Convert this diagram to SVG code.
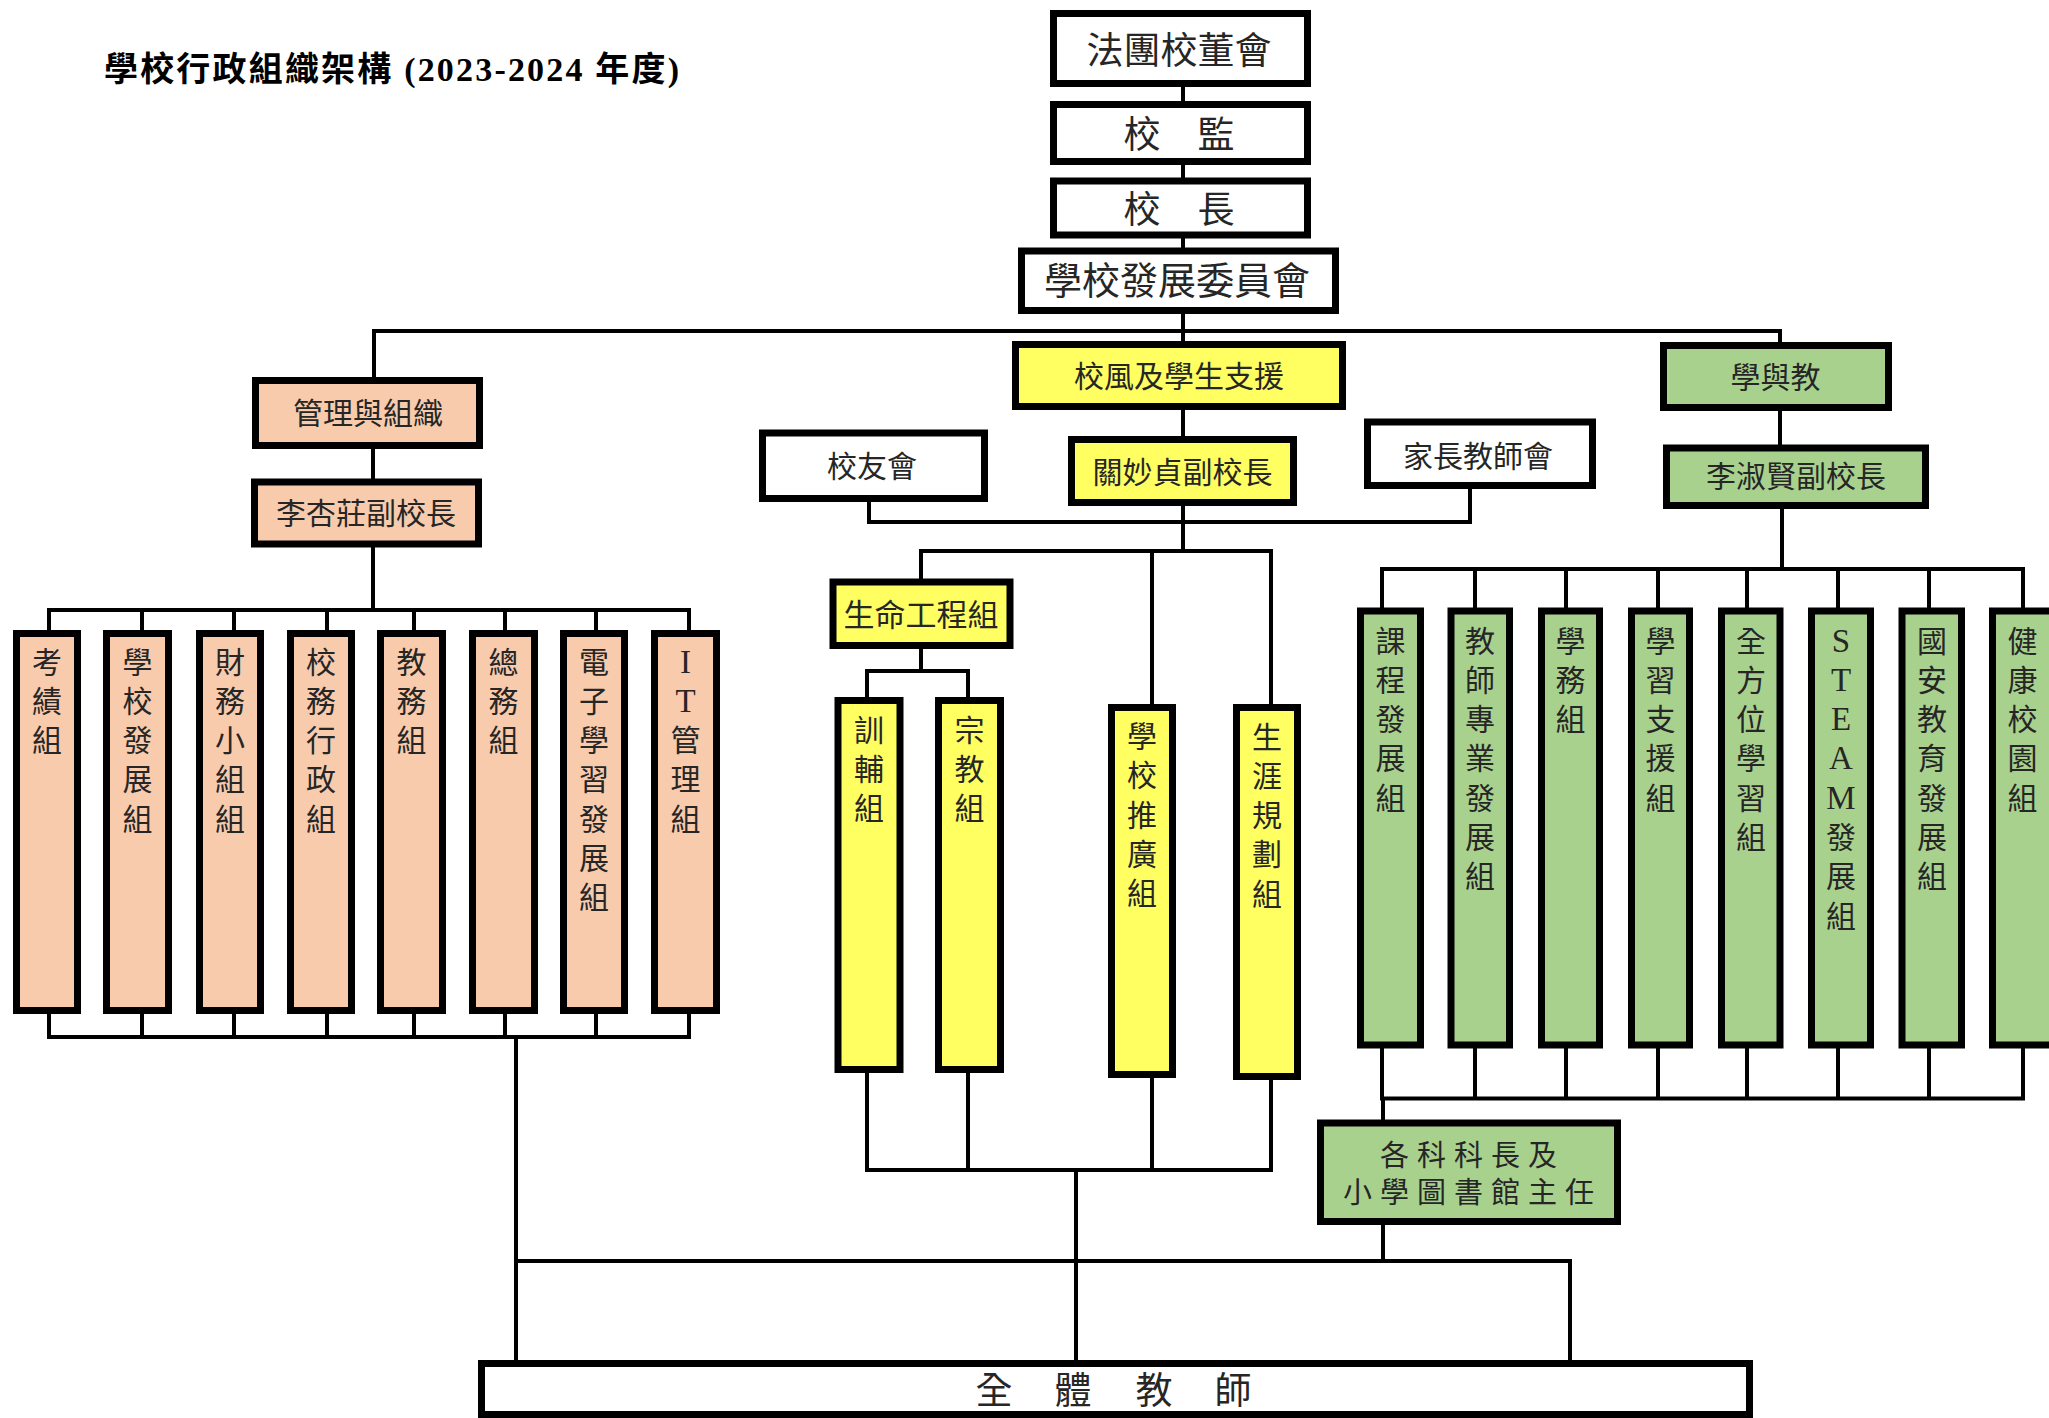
<svg xmlns="http://www.w3.org/2000/svg" width="2049" height="1418" viewBox="0 0 2049 1418">
<style>
.bx{stroke:#000;stroke-width:7}
.w{fill:#fff}.o{fill:#F8CBAD}.y{fill:#FFFF62}.g{fill:#A9D18E}
text,tspan{dominant-baseline:central}
.t{font-family:"Liberation Sans","Noto Sans CJK TC","Noto Sans CJK SC",sans-serif;fill:#262626;text-anchor:middle}
.t37{font-size:37px}.t30{font-size:30px}.t31{font-size:31px}
.v{font-family:"Liberation Sans","Noto Sans CJK TC",sans-serif;font-size:30px;fill:#262626;text-anchor:middle}
.lat{font-family:"Liberation Serif",serif;font-size:33px}
.ln{fill:none;stroke:#000;stroke-width:4;stroke-linecap:square}
</style>
<rect width="2049" height="1418" fill="#fff"/>
<text x="104" y="69" font-family="'Liberation Serif','Noto Sans CJK TC',serif" font-weight="bold" font-size="34" textLength="575" lengthAdjust="spacing" fill="#000">學校行政組織架構 (2023-2024 年度)</text>

<g id="connectors">
<path class="ln" d="M1183 87V101M1183 165V177.5M1183 238.6V247.5M1183 314V341
M374 331H1780M374 331V377M373 449V478.6M373 547.5V610M1780 331V342M1780 411V444.6M1782 509V569
M49 610H689M49 610V630M142 610V630M234 610V630M327 610V630M414 610V630M505 610V630M596 610V630M689 610V630
M49 1037H689M49 1014V1037M142 1014V1037M234 1014V1037M327 1014V1037M414 1014V1037M505 1014V1037M596 1014V1037M689 1014V1037M516 1037V1360
M1183 410V436M1183 506V551M869 502V522H1470V489
M921 551H1271M921 551V578.6M1152 551V704M1271 551V704
M921 649V671M867 671H968M867 671V697M968 671V697
M867 1073V1170M968 1073V1170M1152 1078V1170M1271 1080V1170M867 1170H1271M1076 1170V1360
M516 1261H1570V1360
M1382 569H2023M1382 569V607M1475 569V607M1566 569V607M1658 569V607M1747 569V607M1838 569V607M1929 569V607M2023 569V607
M1382 1098.6H2023M1382 1049V1098.6M1475 1049V1098.6M1566 1049V1098.6M1658 1049V1098.6M1747 1049V1098.6M1838 1049V1098.6M1929 1049V1098.6M2023 1049V1098.6
M1383 1098.6V1119.5M1383 1225V1261"/>
</g>

<g id="n-board"><rect class="bx w" x="1053.5" y="13.5" width="254" height="70"/><text class="t t37" x="1179" y="51">法團校董會</text></g>
<g id="n-supervisor"><rect class="bx w" x="1053.5" y="104.5" width="254" height="57"/><text class="t t37" x="1179" y="135" xml:space="preserve">校　監</text></g>
<g id="n-principal"><rect class="bx w" x="1053.5" y="181" width="254" height="54"/><text class="t t37" x="1179" y="210" xml:space="preserve">校　長</text></g>
<g id="n-sdc"><rect class="bx w" x="1021.5" y="251" width="314" height="59.5"/><text class="t" font-size="38" x="1177" y="281">學校發展委員會</text></g>

<g id="n-mgmt"><rect class="bx o" x="255.5" y="380.5" width="224" height="65"/><text class="t t30" x="368" y="413">管理與組織</text></g>
<g id="n-vp1"><rect class="bx o" x="254.5" y="482" width="224" height="62"/><text class="t t30" x="366" y="513.5">李杏莊副校長</text></g>

<g id="n-ethos"><rect class="bx y" x="1015.5" y="344.5" width="327" height="62"/><text class="t t30" x="1179" y="376">校風及學生支援</text></g>
<g id="n-vp2"><rect class="bx y" x="1071.5" y="439.5" width="222" height="63"/><text class="t t30" x="1182.5" y="472.5">關妙貞副校長</text></g>
<g id="n-alumni"><rect class="bx w" x="762.5" y="433" width="222" height="65.5"/><text class="t t30" x="872" y="466">校友會</text></g>
<g id="n-pta"><rect class="bx w" x="1367.5" y="422" width="225" height="63.5"/><text class="t t30" x="1478" y="456">家長教師會</text></g>
<g id="n-life"><rect class="bx y" x="833" y="582" width="177" height="63.5"/><text class="t t31" x="921" y="615.5">生命工程組</text></g>

<g id="n-lt"><rect class="bx g" x="1663.5" y="345.5" width="225" height="62"/><text class="t t30" x="1775.5" y="377.5">學與教</text></g>
<g id="n-vp3"><rect class="bx g" x="1666.5" y="448" width="259" height="57.5"/><text class="t t30" x="1796" y="476">李淑賢副校長</text></g>

<g id="n-o1"><rect class="bx o" x="16.5" y="633.5" width="61" height="377"/><text class="v"><tspan x="47" y="661.5">考</tspan><tspan x="47" y="700.8">績</tspan><tspan x="47" y="740.1">組</tspan></text></g>
<g id="n-o2"><rect class="bx o" x="106.5" y="633.5" width="62" height="377"/><text class="v"><tspan x="137.5" y="661.5">學</tspan><tspan x="137.5" y="700.8">校</tspan><tspan x="137.5" y="740.1">發</tspan><tspan x="137.5" y="779.4">展</tspan><tspan x="137.5" y="818.7">組</tspan></text></g>
<g id="n-o3"><rect class="bx o" x="199.5" y="633.5" width="61" height="377"/><text class="v"><tspan x="230" y="661.5">財</tspan><tspan x="230" y="700.8">務</tspan><tspan x="230" y="740.1">小</tspan><tspan x="230" y="779.4">組</tspan><tspan x="230" y="818.7">組</tspan></text></g>
<g id="n-o4"><rect class="bx o" x="290.5" y="633.5" width="61" height="377"/><text class="v"><tspan x="321" y="661.5">校</tspan><tspan x="321" y="700.8">務</tspan><tspan x="321" y="740.1">行</tspan><tspan x="321" y="779.4">政</tspan><tspan x="321" y="818.7">組</tspan></text></g>
<g id="n-o5"><rect class="bx o" x="380.5" y="633.5" width="62" height="377"/><text class="v"><tspan x="411.5" y="661.5">教</tspan><tspan x="411.5" y="700.8">務</tspan><tspan x="411.5" y="740.1">組</tspan></text></g>
<g id="n-o6"><rect class="bx o" x="472.5" y="633.5" width="62" height="377"/><text class="v"><tspan x="503.5" y="661.5">總</tspan><tspan x="503.5" y="700.8">務</tspan><tspan x="503.5" y="740.1">組</tspan></text></g>
<g id="n-o7"><rect class="bx o" x="563.5" y="633.5" width="61" height="377"/><text class="v"><tspan x="594" y="661.5">電</tspan><tspan x="594" y="700.8">子</tspan><tspan x="594" y="740.1">學</tspan><tspan x="594" y="779.4">習</tspan><tspan x="594" y="818.7">發</tspan><tspan x="594" y="858">展</tspan><tspan x="594" y="897.3">組</tspan></text></g>
<g id="n-o8"><rect class="bx o" x="654.5" y="633.5" width="62" height="377"/><text class="v"><tspan class="lat" x="685.5" y="661.5">I</tspan><tspan class="lat" x="685.5" y="700.8">T</tspan><tspan x="685.5" y="740.1">管</tspan><tspan x="685.5" y="779.4">理</tspan><tspan x="685.5" y="818.7">組</tspan></text></g>

<g id="n-y1"><rect class="bx y" x="838" y="700.5" width="62" height="369"/><text class="v"><tspan x="869" y="729.5">訓</tspan><tspan x="869" y="768.8">輔</tspan><tspan x="869" y="808.1">組</tspan></text></g>
<g id="n-y2"><rect class="bx y" x="938.5" y="700.5" width="62" height="369"/><text class="v"><tspan x="969.5" y="729.5">宗</tspan><tspan x="969.5" y="768.8">教</tspan><tspan x="969.5" y="808.1">組</tspan></text></g>
<g id="n-y3"><rect class="bx y" x="1111.5" y="707.5" width="61" height="367"/><text class="v"><tspan x="1142" y="736">學</tspan><tspan x="1142" y="775.3">校</tspan><tspan x="1142" y="814.6">推</tspan><tspan x="1142" y="853.9">廣</tspan><tspan x="1142" y="893.2">組</tspan></text></g>
<g id="n-y4"><rect class="bx y" x="1236.5" y="707.5" width="61" height="369"/><text class="v"><tspan x="1267" y="736.5">生</tspan><tspan x="1267" y="775.8">涯</tspan><tspan x="1267" y="815.1">規</tspan><tspan x="1267" y="854.4">劃</tspan><tspan x="1267" y="893.7">組</tspan></text></g>

<g id="n-g1"><rect class="bx g" x="1360.5" y="611" width="60" height="434"/><text class="v"><tspan x="1390.5" y="640.5">課</tspan><tspan x="1390.5" y="679.8">程</tspan><tspan x="1390.5" y="719.1">發</tspan><tspan x="1390.5" y="758.4">展</tspan><tspan x="1390.5" y="797.7">組</tspan></text></g>
<g id="n-g2"><rect class="bx g" x="1451" y="611" width="58.5" height="434"/><text class="v"><tspan x="1480" y="640.5">教</tspan><tspan x="1480" y="679.8">師</tspan><tspan x="1480" y="719.1">專</tspan><tspan x="1480" y="758.4">業</tspan><tspan x="1480" y="797.7">發</tspan><tspan x="1480" y="837">展</tspan><tspan x="1480" y="876.3">組</tspan></text></g>
<g id="n-g3"><rect class="bx g" x="1541.5" y="611" width="58" height="434"/><text class="v"><tspan x="1570.5" y="640.5">學</tspan><tspan x="1570.5" y="679.8">務</tspan><tspan x="1570.5" y="719.1">組</tspan></text></g>
<g id="n-g4"><rect class="bx g" x="1631.5" y="611" width="58" height="434"/><text class="v"><tspan x="1660.5" y="640.5">學</tspan><tspan x="1660.5" y="679.8">習</tspan><tspan x="1660.5" y="719.1">支</tspan><tspan x="1660.5" y="758.4">援</tspan><tspan x="1660.5" y="797.7">組</tspan></text></g>
<g id="n-g5"><rect class="bx g" x="1721.5" y="611" width="58.5" height="434"/><text class="v"><tspan x="1751" y="640.5">全</tspan><tspan x="1751" y="679.8">方</tspan><tspan x="1751" y="719.1">位</tspan><tspan x="1751" y="758.4">學</tspan><tspan x="1751" y="797.7">習</tspan><tspan x="1751" y="837">組</tspan></text></g>
<g id="n-g6"><rect class="bx g" x="1811.5" y="611" width="59" height="434"/><text class="v"><tspan class="lat" x="1841" y="640.5">S</tspan><tspan class="lat" x="1841" y="679.8">T</tspan><tspan class="lat" x="1841" y="719.1">E</tspan><tspan class="lat" x="1841" y="758.4">A</tspan><tspan class="lat" x="1841" y="797.7">M</tspan><tspan x="1841" y="837">發</tspan><tspan x="1841" y="876.3">展</tspan><tspan x="1841" y="915.6">組</tspan></text></g>
<g id="n-g7"><rect class="bx g" x="1902" y="611" width="59.5" height="434"/><text class="v"><tspan x="1932" y="640.5">國</tspan><tspan x="1932" y="679.8">安</tspan><tspan x="1932" y="719.1">教</tspan><tspan x="1932" y="758.4">育</tspan><tspan x="1932" y="797.7">發</tspan><tspan x="1932" y="837">展</tspan><tspan x="1932" y="876.3">組</tspan></text></g>
<g id="n-g8"><rect class="bx g" x="1992.5" y="611" width="60" height="434"/><text class="v"><tspan x="2022.5" y="640.5">健</tspan><tspan x="2022.5" y="679.8">康</tspan><tspan x="2022.5" y="719.1">校</tspan><tspan x="2022.5" y="758.4">園</tspan><tspan x="2022.5" y="797.7">組</tspan></text></g>

<g id="n-heads"><rect class="bx g" x="1320.5" y="1123" width="297" height="98.5"/><text class="t" font-size="29" letter-spacing="8"><tspan x="1472.5" y="1155.5">各科科長及</tspan><tspan x="1472.5" y="1193">小學圖書館主任</tspan></text></g>

<g id="n-staff"><rect class="bx w" x="481.5" y="1363.5" width="1268" height="51"/><text class="t t37" x="994 1073 1154 1233" y="1391.5">全體教師</text></g>
</svg>
